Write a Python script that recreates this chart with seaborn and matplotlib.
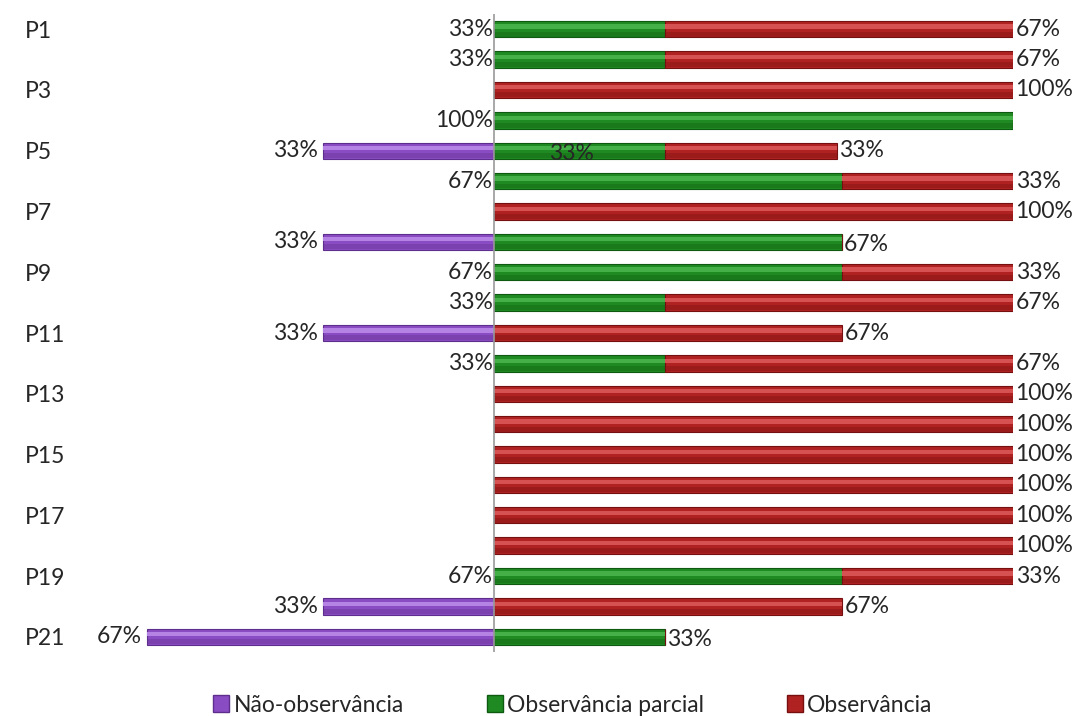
import numpy as np
import matplotlib
matplotlib.use("Agg")
import matplotlib.pyplot as plt
import seaborn as sns
from matplotlib.patches import Patch

categories = [f"P{i}" for i in range(1, 22)]
nao_obs = [0, 0, 0, 0, 33, 0, 0, 33, 0, 0, 33, 0, 0, 0, 0, 0, 0, 0, 0, 33, 67]
obs_parcial = [33, 33, 0, 100, 33, 67, 0, 67, 67, 33, 0, 33, 0, 0, 0, 0, 0, 0, 67, 0, 33]
obs = [67, 67, 100, 0, 33, 33, 100, 0, 33, 67, 67, 67, 100, 100, 100, 100, 100, 100, 33, 67, 0]
# where the green value label sits: at the axis, inside the bar, or after its end
green_label_pos = ["axis", "axis", "", "axis", "inside", "axis", "", "end", "axis", "axis", "",
                   "axis", "", "", "", "", "", "", "axis", "", "end"]
series_names = ["Não-observância", "Observância parcial", "Observância"]

sns.set_theme(style="white")
plt.rcParams["font.family"] = ["Lato", "DejaVu Sans"]

fig = plt.figure(figsize=(10.81, 7.16), dpi=100)
ax = fig.add_axes([100 / 1081, 1 - 652 / 716, (1013 - 100) / 1081, (652 - 14) / 716])

y = np.arange(len(categories))
neg = -np.array(nao_obs) / 100
g = np.array(obs_parcial) / 100
r = np.array(obs) / 100

h = 0.54
cols = {
    "p": ("#8A4CC2", "#B583E3", "#5E2E8C"),
    "g": ("#1F8A22", "#45B048", "#0E5A10"),
    "r": ("#B02222", "#D65252", "#761010"),
}

def draw(left, width, key):
    mid, light, dark = cols[key]
    ax.barh(y, width, left=left, height=h, color=mid, edgecolor=dark, linewidth=0.8, zorder=2)
    mask = width != 0
    lm = np.asarray(left)[mask]
    ax.barh(y[mask] - h * 0.16, width[mask], left=lm, height=h * 0.26, color=light, linewidth=0, zorder=3)
    ax.barh(y[mask] + h * 0.3, width[mask], left=lm, height=h * 0.3, color=dark, alpha=0.35, linewidth=0, zorder=3)

draw(np.zeros(len(y)), neg, "p")
draw(np.zeros(len(y)), g, "g")
draw(g, r, "r")

ax.axvline(0, color="#999999", lw=1.2, zorder=4)

fs = 16.5
for i in range(len(y)):
    if nao_obs[i]:
        ax.text(neg[i] - 0.01, y[i], f"{nao_obs[i]}%", ha="right", va="center", fontsize=fs, zorder=5)
    if obs_parcial[i]:
        pos = green_label_pos[i]
        if pos == "axis":
            ax.text(-0.002, y[i], f"{obs_parcial[i]}%", ha="right", va="center", fontsize=fs, zorder=5)
        elif pos == "inside":
            ax.text(g[i] * 0.45, y[i] + 0.1, f"{obs_parcial[i]}%", ha="center", va="center", fontsize=fs, zorder=5)
        else:
            ax.text(g[i] + 0.003, y[i] + 0.1, f"{obs_parcial[i]}%", ha="left", va="center", fontsize=fs, zorder=5)
    if obs[i]:
        ax.text(g[i] + r[i] + 0.005, y[i], f"{obs[i]}%", ha="left", va="center", fontsize=fs, zorder=5)

ax.set_xlim(-0.76, 1.0)
ax.set_ylim(len(y) - 0.5, -0.5)
ax.set_yticks(y[::2])
ax.set_yticklabels(categories[::2], fontsize=fs)
ax.tick_params(axis="y", length=0, pad=0)
for lab in ax.get_yticklabels():
    lab.set_horizontalalignment("left")
    lab.set_x(-(100 - 25) / 913)
ax.set_xticks([])
for s in ax.spines.values():
    s.set_visible(False)

handles = [Patch(facecolor=cols[k][0], edgecolor=cols[k][2]) for k in ["p", "g", "r"]]
fig.legend(handles, series_names, loc="center", bbox_to_anchor=(573 / 1081, 1 - 705 / 716), ncol=3,
           frameon=False, fontsize=fs, handlelength=0.7, handleheight=0.7, handletextpad=0.2,
           columnspacing=3.6)

fig.savefig("out.png", dpi=100)
